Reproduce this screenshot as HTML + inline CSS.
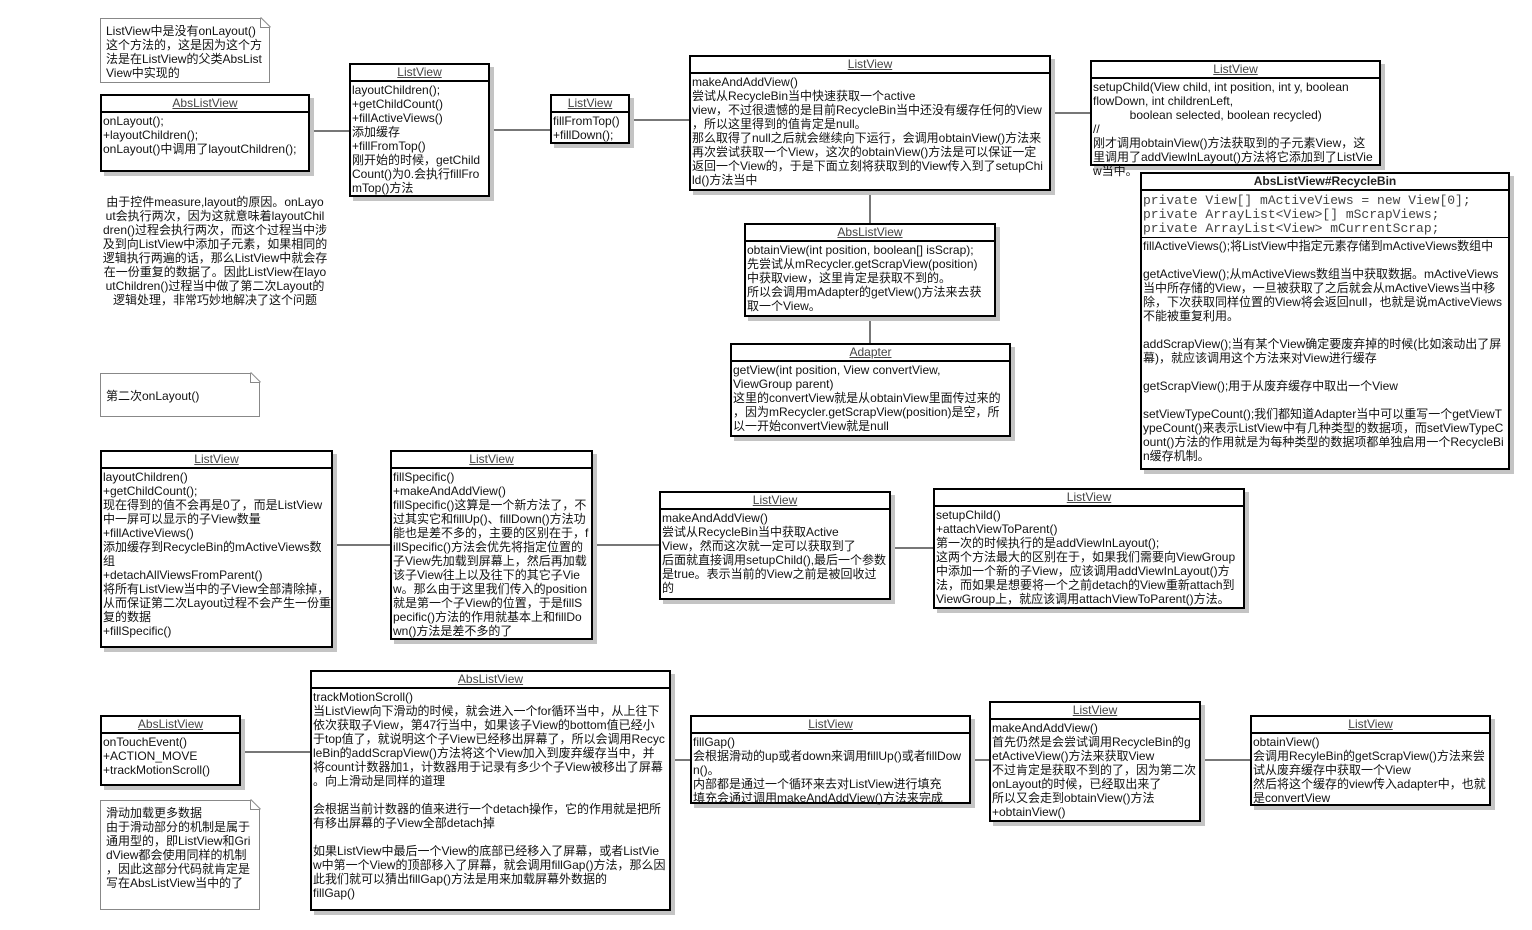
<!DOCTYPE html>
<html><head><meta charset="utf-8">
<style>
body{margin:0;width:1532px;height:930px;background:#fff;position:relative;overflow:hidden;font-family:"Liberation Sans","Noto Sans CJK SC",sans-serif;font-size:12px;color:#111}
.box{position:absolute;border:2px solid #000;background:#fff;box-shadow:4px 4px 0 #c4c4c4;box-sizing:border-box}
.h{text-align:center;height:15px;line-height:15px;border-bottom:2px solid #000;text-decoration:underline;color:#444}
.b{padding:1px 1px;line-height:14px;white-space:nowrap}
.hb{font-weight:bold;text-decoration:none;color:#222}
.note{position:absolute;border:1px solid #888;background:#fff;box-sizing:border-box;line-height:14px;white-space:nowrap;padding:5px 5px;clip-path:polygon(0 0,calc(100% - 10px) 0,100% 10px,100% 100%,0 100%)}
.fold{position:absolute;width:10px;height:10px;border-left:1px solid #888;border-bottom:1px solid #888;box-sizing:border-box}
.fold::after{content:"";position:absolute;left:0;top:-1px;width:14px;height:1px;background:#888;transform-origin:0 0;transform:rotate(45deg)}
.ln{position:absolute;background:#777}
.txt{position:absolute;line-height:14px;white-space:nowrap;text-align:center}
.mono{font-family:"Liberation Mono","Noto Sans CJK SC",monospace;color:#444;font-size:13px}
</style></head><body>

<!-- connectors -->
<div class="ln" style="left:310px;top:130px;width:40px;height:2px"></div>
<div class="ln" style="left:490px;top:129px;width:60px;height:2px"></div>
<div class="ln" style="left:630px;top:119px;width:60px;height:2px"></div>
<div class="ln" style="left:1050px;top:112px;width:40px;height:2px"></div>
<div class="ln" style="left:869px;top:190px;width:2px;height:33px"></div>
<div class="ln" style="left:869px;top:316px;width:2px;height:27px"></div>
<div class="ln" style="left:333px;top:544px;width:57px;height:2px"></div>
<div class="ln" style="left:593px;top:544px;width:66px;height:2px"></div>
<div class="ln" style="left:891px;top:547px;width:42px;height:2px"></div>
<div class="ln" style="left:240px;top:751px;width:70px;height:2px"></div>
<div class="ln" style="left:670px;top:759px;width:20px;height:2px"></div>
<div class="ln" style="left:970px;top:759px;width:20px;height:2px"></div>
<div class="ln" style="left:1200px;top:759px;width:50px;height:2px"></div>

<!-- notes -->
<div class="note" style="left:100px;top:18px;width:170px;height:65px;padding-top:5px">ListView中是没有onLayout()<br>这个方法的，这是因为这个方<br>法是在ListView的父类AbsList<br>View中实现的</div>
<div class="fold" style="left:260px;top:18px"></div>
<div class="note" style="left:100px;top:373px;width:160px;height:44px;padding-top:15px">第二次onLayout()</div>
<div class="fold" style="left:250px;top:373px"></div>
<div class="note" style="left:100px;top:800px;width:160px;height:110px;padding-top:5px">滑动加载更多数据<br>由于滑动部分的机制是属于<br>通用型的，即ListView和Gri<br>dView都会使用同样的机制<br>，因此这部分代码就肯定是<br>写在AbsListView当中的了</div>
<div class="fold" style="left:250px;top:800px"></div>

<div class="txt" style="left:100px;top:195px;width:230px">由于控件measure,layout的原因。onLayo<br>ut会执行两次，因为这就意味着layoutChil<br>dren()过程会执行两次，而这个过程当中涉<br>及到向ListView中添加子元素，如果相同的<br>逻辑执行两遍的话，那么ListView中就会存<br>在一份重复的数据了。因此ListView在layo<br>utChildren()过程当中做了第二次Layout的<br>逻辑处理，非常巧妙地解决了这个问题</div>

<!-- boxes -->
<div class="box" style="left:100px;top:94px;width:210px;height:78px"><div class="h">AbsListView</div><div class="b">onLayout();<br>+layoutChildren();<br>onLayout()中调用了layoutChildren();</div></div>

<div class="box" style="left:349px;top:63px;width:141px;height:134px"><div class="h">ListView</div><div class="b">layoutChildren();<br>+getChildCount()<br>+fillActiveViews()<br>添加缓存<br>+fillFromTop()<br>刚开始的时候，getChild<br>Count()为0.会执行fillFro<br>mTop()方法</div></div>

<div class="box" style="left:550px;top:94px;width:80px;height:50px"><div class="h">ListView</div><div class="b">fillFromTop()<br>+fillDown();</div></div>

<div class="box" style="left:689px;top:55px;width:362px;height:136px"><div class="h">ListView</div><div class="b">makeAndAddView()<br>尝试从RecycleBin当中快速获取一个active<br>view，不过很遗憾的是目前RecycleBin当中还没有缓存任何的View<br>，所以这里得到的值肯定是null。<br>那么取得了null之后就会继续向下运行，会调用obtainView()方法来<br>再次尝试获取一个View，这次的obtainView()方法是可以保证一定<br>返回一个View的，于是下面立刻将获取到的View传入到了setupChi<br>ld()方法当中</div></div>

<div class="box" style="left:1090px;top:60px;width:291px;height:106px"><div class="h">ListView</div><div class="b">setupChild(View child, int position, int y, boolean<br>flowDown, int childrenLeft,<br>&nbsp;&nbsp;&nbsp;&nbsp;&nbsp;&nbsp;&nbsp;&nbsp;&nbsp;&nbsp;&nbsp;boolean selected, boolean recycled)<br>//<br>刚才调用obtainView()方法获取到的子元素View，这<br>里调用了addViewInLayout()方法将它添加到了ListVie<br>w当中。</div></div>

<div class="box" style="left:1140px;top:172px;width:370px;height:298px"><div class="h hb">AbsListView#RecycleBin</div><div class="b mono" style="border-bottom:1px solid #000;padding-top:3px">private View[] mActiveViews = new View[0];<br>private ArrayList&lt;View&gt;[] mScrapViews;<br>private ArrayList&lt;View&gt; mCurrentScrap;</div><div class="b">fillActiveViews();将ListView中指定元素存储到mActiveViews数组中<br><br>getActiveView();从mActiveViews数组当中获取数据。mActiveViews<br>当中所存储的View，一旦被获取了之后就会从mActiveViews当中移<br>除，下次获取同样位置的View将会返回null，也就是说mActiveViews<br>不能被重复利用。<br><br>addScrapView();当有某个View确定要废弃掉的时候(比如滚动出了屏<br>幕)，就应该调用这个方法来对View进行缓存<br><br>getScrapView();用于从废弃缓存中取出一个View<br><br>setViewTypeCount();我们都知道Adapter当中可以重写一个getViewT<br>ypeCount()来表示ListView中有几种类型的数据项，而setViewTypeC<br>ount()方法的作用就是为每种类型的数据项都单独启用一个RecycleBi<br>n缓存机制。</div></div>

<div class="box" style="left:744px;top:223px;width:252px;height:94px"><div class="h">AbsListView</div><div class="b">obtainView(int position, boolean[] isScrap);<br>先尝试从mRecycler.getScrapView(position)<br>中获取view，这里肯定是获取不到的。<br>所以会调用mAdapter的getView()方法来去获<br>取一个View。</div></div>

<div class="box" style="left:730px;top:343px;width:281px;height:94px"><div class="h">Adapter</div><div class="b">getView(int position, View convertView,<br>ViewGroup parent)<br>这里的convertView就是从obtainView里面传过来的<br>，因为mRecycler.getScrapView(position)是空，所<br>以一开始convertView就是null</div></div>

<div class="box" style="left:100px;top:450px;width:233px;height:198px"><div class="h">ListView</div><div class="b">layoutChildren()<br>+getChildCount();<br>现在得到的值不会再是0了，而是ListView<br>中一屏可以显示的子View数量<br>+fillActiveViews()<br>添加缓存到RecycleBin的mActiveViews数<br>组<br>+detachAllViewsFromParent()<br>将所有ListView当中的子View全部清除掉，<br>从而保证第二次Layout过程不会产生一份重<br>复的数据<br>+fillSpecific()</div></div>

<div class="box" style="left:390px;top:450px;width:203px;height:190px"><div class="h">ListView</div><div class="b">fillSpecific()<br>+makeAndAddView()<br>fillSpecific()这算是一个新方法了，不<br>过其实它和fillUp()、fillDown()方法功<br>能也是差不多的，主要的区别在于，f<br>illSpecific()方法会优先将指定位置的<br>子View先加载到屏幕上，然后再加载<br>该子View往上以及往下的其它子Vie<br>w。那么由于这里我们传入的position<br>就是第一个子View的位置，于是fillS<br>pecific()方法的作用就基本上和fillDo<br>wn()方法是差不多的了</div></div>

<div class="box" style="left:659px;top:491px;width:232px;height:109px"><div class="h">ListView</div><div class="b">makeAndAddView()<br>尝试从RecycleBin当中获取Active<br>View，然而这次就一定可以获取到了<br>后面就直接调用setupChild(),最后一个参数<br>是true。表示当前的View之前是被回收过<br>的</div></div>

<div class="box" style="left:933px;top:488px;width:312px;height:121px"><div class="h">ListView</div><div class="b">setupChild()<br>+attachViewToParent()<br>第一次的时候执行的是addViewInLayout();<br>这两个方法最大的区别在于，如果我们需要向ViewGroup<br>中添加一个新的子View，应该调用addViewInLayout()方<br>法，而如果是想要将一个之前detach的View重新attach到<br>ViewGroup上，就应该调用attachViewToParent()方法。</div></div>

<div class="box" style="left:100px;top:715px;width:141px;height:71px"><div class="h">AbsListView</div><div class="b">onTouchEvent()<br>+ACTION_MOVE<br>+trackMotionScroll()</div></div>

<div class="box" style="left:310px;top:670px;width:361px;height:241px"><div class="h">AbsListView</div><div class="b">trackMotionScroll()<br>当ListView向下滑动的时候，就会进入一个for循环当中，从上往下<br>依次获取子View，第47行当中，如果该子View的bottom值已经小<br>于top值了，就说明这个子View已经移出屏幕了，所以会调用Recyc<br>leBin的addScrapView()方法将这个View加入到废弃缓存当中，并<br>将count计数器加1，计数器用于记录有多少个子View被移出了屏幕<br>。向上滑动是同样的道理<br><br>会根据当前计数器的值来进行一个detach操作，它的作用就是把所<br>有移出屏幕的子View全部detach掉<br><br>如果ListView中最后一个View的底部已经移入了屏幕，或者ListVie<br>w中第一个View的顶部移入了屏幕，就会调用fillGap()方法，那么因<br>此我们就可以猜出fillGap()方法是用来加载屏幕外数据的<br>fillGap()</div></div>

<div class="box" style="left:690px;top:715px;width:281px;height:89px"><div class="h">ListView</div><div class="b">fillGap()<br>会根据滑动的up或者down来调用fillUp()或者fillDow<br>n()。<br>内部都是通过一个循环来去对ListView进行填充<br>填充会通过调用makeAndAddView()方法来完成</div></div>

<div class="box" style="left:989px;top:701px;width:212px;height:121px"><div class="h">ListView</div><div class="b">makeAndAddView()<br>首先仍然是会尝试调用RecycleBin的g<br>etActiveView()方法来获取View<br>不过肯定是获取不到的了，因为第二次<br>onLayout的时候，已经取出来了<br>所以又会走到obtainView()方法<br>+obtainView()</div></div>

<div class="box" style="left:1250px;top:715px;width:241px;height:91px"><div class="h">ListView</div><div class="b">obtainView()<br>会调用RecyleBin的getScrapView()方法来尝<br>试从废弃缓存中获取一个View<br>然后将这个缓存的view传入adapter中，也就<br>是convertView</div></div>

</body></html>
